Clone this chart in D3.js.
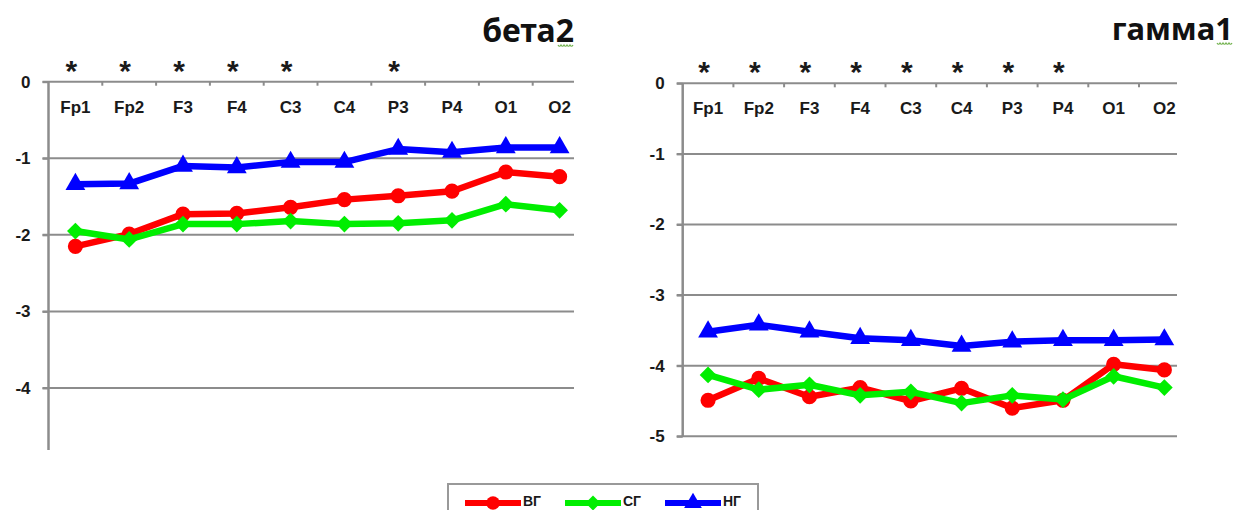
<!DOCTYPE html>
<html>
<head>
<meta charset="utf-8">
<script src="https://cdn.jsdelivr.net/npm/d3@7"></script>
<style>
  html, body { margin: 0; padding: 0; background: #fff; }
  svg { display: block; }
</style>
</head>
<body>
<svg id="chart" width="1240" height="510"></svg>
<script>
// ---------------- DATA ----------------
const categories = ["Fp1", "Fp2", "F3", "F4", "C3", "C4", "P3", "P4", "O1", "O2"];
const seriesNames = ["ВГ", "СГ", "НГ"];

const beta2VG = [-2.15, -1.99, -1.73, -1.72, -1.64, -1.54, -1.49, -1.43, -1.18, -1.24];
const beta2SG = [-1.95, -2.06, -1.86, -1.86, -1.82, -1.86, -1.85, -1.81, -1.60, -1.68];
const beta2NG = [-1.34, -1.33, -1.10, -1.12, -1.05, -1.05, -0.88, -0.92, -0.86, -0.86];

const gamma1VG = [-4.49, -4.18, -4.44, -4.31, -4.50, -4.32, -4.60, -4.49, -3.98, -4.06];
const gamma1SG = [-4.13, -4.34, -4.27, -4.42, -4.37, -4.53, -4.42, -4.48, -4.15, -4.31];
const gamma1NG = [-3.52, -3.42, -3.52, -3.61, -3.64, -3.72, -3.66, -3.64, -3.64, -3.63];

const beta2Stars = ["Fp1", "Fp2", "F3", "F4", "C3", "P3"];
const gamma1Stars = ["Fp1", "Fp2", "F3", "F4", "C3", "C4", "P3", "P4"];

const beta2Ticks = [0, -1, -2, -3, -4];
const gamma1Ticks = [0, -1, -2, -3, -4, -5];

const beta2Title = "бета2";
const gamma1Title = "гамма1";

// ---------------- STYLE ----------------
const colors = ["#ff0000", "#00ee00", "#0000ff"];
const symbols = [d3.symbolCircle, d3.symbolSquare, d3.symbolTriangle];
const symbolRot = [0, 45, 0];
const symbolSizes = [180, 140, 170];
const gridColor = "#8c8c8c";
const tickFont = "'Liberation Sans', Arial, sans-serif";

const svg = d3.select("#chart");
svg.append("rect").attr("width", 1240).attr("height", 510).attr("fill", "#fff");

function drawPanel(cfg) {
  const g = svg.append("g");
  const x = d3.scaleBand().domain(categories).range([cfg.x0, cfg.x1]);
  const y = d3.scaleLinear().domain([0, cfg.yMin]).range([cfg.y0, cfg.y1]);
  const bw = x.bandwidth();
  const cx = c => x(c) + bw / 2;

  // gridlines (incl. 0 line acting as category axis)
  g.append("g").selectAll("line").data(cfg.ticks).join("line")
    .attr("x1", cfg.x0 - 6).attr("x2", cfg.gridEnd)
    .attr("y1", d => y(d)).attr("y2", d => y(d))
    .attr("stroke", gridColor).attr("stroke-width", 2);

  // y axis
  const yAxis = d3.axisLeft(y).tickValues(cfg.ticks).tickSize(6).tickPadding(12)
    .tickFormat(d3.format("d"));
  const ya = g.append("g").attr("transform", `translate(${cfg.x0},0)`).call(yAxis);
  ya.select(".domain").attr("stroke", gridColor).attr("stroke-width", 2.5)
    .attr("d", `M0,${y(0)}V${cfg.axisBottom}`);
  ya.selectAll(".tick line").attr("stroke", gridColor).attr("stroke-width", 2);
  ya.selectAll(".tick text")
    .attr("fill", "#1a1a1a").attr("font-family", tickFont)
    .attr("font-weight", "bold").attr("font-size", 17)
    .text(d => d === 0 ? "0" : String(d).replace("−", "-"));

  // category ticks on 0 line
  g.append("g").selectAll("line").data(categories.slice(1)).join("line")
    .attr("x1", d => x(d)).attr("x2", d => x(d))
    .attr("y1", y(0)).attr("y2", y(0) + 4)
    .attr("stroke", gridColor).attr("stroke-width", 2);

  // category labels
  g.append("g").selectAll("text").data(categories).join("text")
    .attr("x", d => cx(d)).attr("y", y(0) + 31)
    .attr("text-anchor", "middle")
    .attr("font-family", tickFont).attr("font-weight", "bold").attr("font-size", 17)
    .attr("fill", "#1a1a1a")
    .text(d => d);

  // significance stars
  g.append("g").selectAll("text").data(cfg.stars).join("text")
    .attr("x", d => cx(d) - 4).attr("y", y(0) - 1)
    .attr("text-anchor", "middle")
    .attr("font-family", tickFont).attr("font-weight", "bold").attr("font-size", 30)
    .attr("fill", "#1a1a1a")
    .text("*");

  // series
  const line = d3.line().x((d, i) => cx(categories[i])).y(d => y(d));
  cfg.series.forEach((vals, s) => {
    g.append("path").datum(vals)
      .attr("d", line).attr("fill", "none")
      .attr("stroke", colors[s]).attr("stroke-width", 6.5)
      .attr("stroke-linejoin", "round");
    g.append("g").selectAll("path").data(vals).join("path")
      .attr("transform", (d, i) => `translate(${cx(categories[i])},${y(d)}) rotate(${symbolRot[s]})`)
      .attr("d", d3.symbol().type(symbols[s]).size(symbolSizes[s]))
      .attr("fill", colors[s]);
  });

  // title
  const t = svg.append("text")
    .attr("x", cfg.titleX).attr("y", cfg.titleY)
    .attr("text-anchor", "end")
    .attr("font-family", "'Noto Sans', 'Open Sans', sans-serif")
    .attr("font-weight", "bold").attr("font-size", cfg.titleSize)
    .attr("fill", "#111")
    .text(cfg.title);
  // spell-check squiggle under last character
  const bb = t.node().getBBox();
  const sx = bb.x + bb.width - 16, sy = cfg.titleY + 3;
  let d = `M${sx},${sy}`;
  for (let k = 0; k < 5; k++) d += ` q1.5,2.5 3,0`;
  svg.append("path").attr("d", d).attr("fill", "none")
    .attr("stroke", "#6fb04a").attr("stroke-width", 1.2);
}

drawPanel({
  x0: 48.5, x1: 586.5, gridEnd: 574,
  y0: 81.7, y1: 450, yMin: -4.81, axisBottom: 450,
  ticks: beta2Ticks, stars: beta2Stars,
  series: [beta2VG, beta2SG, beta2NG],
  title: beta2Title, titleX: 574, titleY: 42, titleSize: 32
});

drawPanel({
  x0: 682.7, x1: 1189.7, gridEnd: 1177,
  y0: 83.3, y1: 436.3, yMin: -5, axisBottom: 436.3,
  ticks: gamma1Ticks, stars: gamma1Stars,
  series: [gamma1VG, gamma1SG, gamma1NG],
  title: gamma1Title, titleX: 1233, titleY: 40, titleSize: 31
});

// ---------------- LEGEND ----------------
const lg = svg.append("g");
lg.append("rect").attr("x", 448).attr("y", 484).attr("width", 310).attr("height", 40)
  .attr("fill", "#fff").attr("stroke", "#999").attr("stroke-width", 2);
const legendX = d3.scalePoint().domain(seriesNames).range([465, 665]);
seriesNames.forEach((name, s) => {
  const lx = legendX(name);
  lg.append("line").attr("x1", lx).attr("x2", lx + 56).attr("y1", 503).attr("y2", 503)
    .attr("stroke", colors[s]).attr("stroke-width", 6);
  lg.append("path").attr("transform", `translate(${lx + 28},503) rotate(${symbolRot[s]})`)
    .attr("d", d3.symbol().type(symbols[s]).size(symbolSizes[s] * 0.8))
    .attr("fill", colors[s]);
  lg.append("text").attr("x", lx + 58).attr("y", 506)
    .attr("font-family", tickFont).attr("font-weight", "bold").attr("font-size", 14)
    .attr("fill", "#1a1a1a").text(name);
});
</script>
</body>
</html>
